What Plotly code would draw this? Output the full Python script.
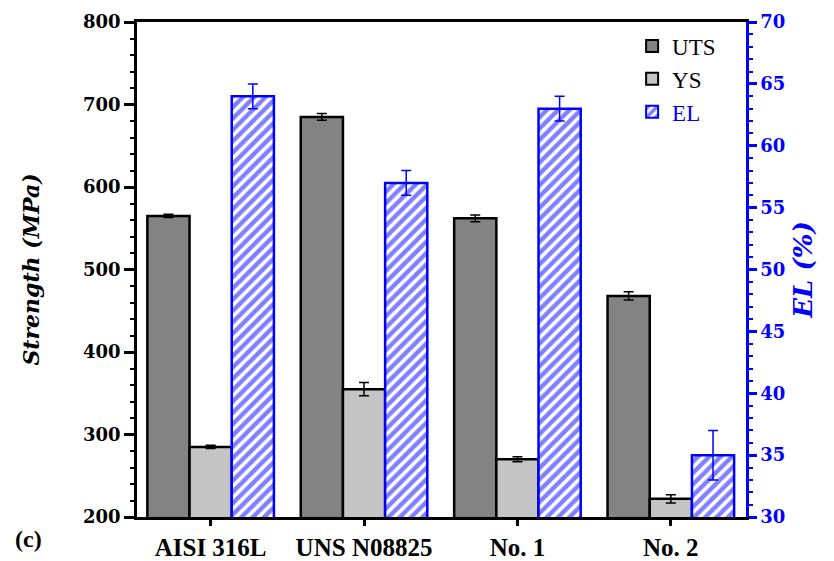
import plotly.graph_objects as go

categories = ["AISI 316L", "UNS N08825", "No. 1", "No. 2"]
uts = [565, 685, 562, 468]
uts_err = [2, 4, 4, 5]
ys = [285, 355, 270, 222]
ys_err = [2, 8, 3, 5]
el = [64, 57, 63, 35]
el_err = [1, 1, 1, 2]

SERIF = "Liberation Serif"
NUM = "DejaVu Serif"
BLUE = "#0000ff"
W = 0.275

fig = go.Figure()
fig.add_trace(go.Bar(
    x=categories, y=uts, name="UTS", width=W, offset=-1.5 * W,
    marker=dict(color="#838383", line=dict(color="black", width=2.5)),
    error_y=dict(type="data", array=uts_err, color="black", thickness=1.5, width=5),
    yaxis="y"))
fig.add_trace(go.Bar(
    x=categories, y=ys, name="YS", width=W, offset=-0.5 * W,
    marker=dict(color="#c4c4c4", line=dict(color="black", width=2.5)),
    error_y=dict(type="data", array=ys_err, color="black", thickness=1.5, width=5),
    yaxis="y"))
fig.add_trace(go.Bar(
    x=categories, y=el, name="<span style='color:#0000ff'>EL</span>", width=W, offset=0.5 * W,
    marker=dict(color="white", line=dict(color=BLUE, width=2.5),
                pattern=dict(shape="/", fgcolor=BLUE, bgcolor="white", size=8, solidity=0.55)),
    error_y=dict(type="data", array=el_err, color=BLUE, thickness=1.5, width=5),
    yaxis="y2"))

fig.update_layout(
    width=834, height=561,
    margin=dict(l=137, r=88, t=22, b=44),
    paper_bgcolor="white", plot_bgcolor="white",
    font=dict(family=SERIF, size=18, color="black"),
    showlegend=True,
    legend=dict(x=0.813, y=0.995, xanchor="left", yanchor="top",
                bgcolor="rgba(0,0,0,0)", font=dict(family=SERIF, size=23, color="black"),
                tracegroupgap=0, itemsizing="constant"),
    xaxis=dict(range=[-0.48, 3.49], showline=True, linecolor="black", linewidth=2.5,
               mirror=True, ticks="outside", ticklen=6, tickwidth=2.5, tickcolor="black",
               tickfont=dict(family=SERIF, size=25, color="black", weight="bold"),
               showgrid=False, automargin=False),
    yaxis=dict(range=[200, 800], dtick=100, showline=True, linecolor="black", linewidth=2.5,
               ticks="outside", ticklen=10, tickwidth=2.5, tickcolor="black",
               minor=dict(dtick=20, ticks="outside", ticklen=4, tickwidth=2, tickcolor="black"),
               tickfont=dict(family=NUM, size=18, color="black", weight="bold"),
               showgrid=False, zeroline=False, automargin=False,
               title=dict(text="<b><i>Strength (MPa)</i></b>", standoff=38,
                          font=dict(family=NUM, size=22, color="black"))),
    yaxis2=dict(range=[30, 70], dtick=5, overlaying="y", side="right", showline=True,
                linecolor=BLUE, linewidth=2.5, ticks="outside", ticklen=8, tickwidth=2.5,
                tickcolor=BLUE,
                minor=dict(dtick=1, ticks="outside", ticklen=4, tickwidth=2, tickcolor=BLUE),
                tickfont=dict(family=NUM, size=18, color=BLUE, weight="bold"),
                showgrid=False, zeroline=False, automargin=False,
                title=dict(text="<b><i>EL (%)</i></b>", standoff=10,
                           font=dict(family=NUM, size=26, color=BLUE))),
    annotations=[dict(text="<b>(c)</b>", xref="paper", yref="paper", x=-0.203, y=-0.045,
                      xanchor="left", yanchor="middle", showarrow=False,
                      font=dict(family=SERIF, size=24, color="black"))],
)

fig.write_html("out.html", config={"displayModeBar": False},
               post_script="document.body.style.margin='0';document.body.style.overflow='hidden';")
